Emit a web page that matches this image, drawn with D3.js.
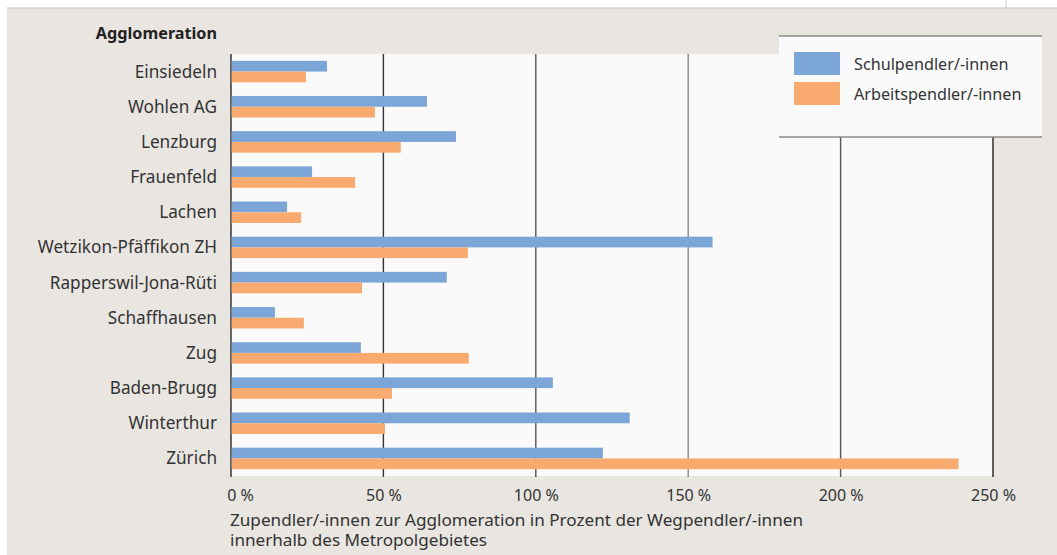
<!DOCTYPE html>
<html>
<head>
<meta charset="utf-8">
<script src="https://cdn.jsdelivr.net/npm/d3@7"></script>
<style>
  body { margin: 0; background: #fff; }
  svg { display: block; }
  .cat { font-family: "Noto Sans", sans-serif; font-size: 17.2px; fill: #333; }
  .tick text { font-family: "Noto Sans", sans-serif; font-size: 16px; fill: #333; }
</style>
</head>
<body>
<div id="chart"></div>
<script>
// agglomerations, top to bottom
let categories = ['Einsiedeln', 'Wohlen AG', 'Lenzburg', 'Frauenfeld', 'Lachen',
  'Wetzikon-Pfäffikon ZH', 'Rapperswil-Jona-Rüti', 'Schaffhausen', 'Zug',
  'Baden-Brugg', 'Winterthur', 'Zürich'];

// percent values
let schulpendler = [31.5, 64.3, 73.8, 26.6, 18.4, 158, 70.8, 14.4, 42.6, 105.6, 130.8, 122];
let arbeitspendler = [24.6, 47.2, 55.7, 40.7, 23, 77.7, 43, 23.9, 78, 52.8, 50.5, 238.7];

let series = ['Schulpendler/-innen', 'Arbeitspendler/-innen'];
let colors = ['#7ba6d7', '#f9aa6f'];
let tickValues = [0, 50, 100, 150, 200, 250];
let gridColors = ['#2a2a2a', '#333', '#555', '#888', '#555', '#222'];

let chart_width = 1057;
let chart_height = 555;

let svg = d3.select('#chart')
  .append('svg')
  .attr('width', chart_width)
  .attr('height', chart_height);

// background
svg.append('rect')
  .attr('x', 7).attr('y', 8)
  .attr('width', chart_width).attr('height', chart_height)
  .attr('fill', '#e9e6e1');
svg.append('line')
  .attr('x1', 7).attr('x2', chart_width).attr('y1', 8).attr('y2', 8)
  .attr('stroke', '#d0d0d0').attr('stroke-width', 1.5);
svg.append('line')
  .attr('x1', 1006).attr('x2', 1006).attr('y1', 0).attr('y2', 8)
  .attr('stroke', '#d0d0d0').attr('stroke-width', 1);

let plot_left = 231, plot_right = 993, plot_top = 54, plot_bottom = 476;

let x_scale = d3.scaleLinear()
  .domain([0, 250])
  .range([plot_left, plot_right]);

let y_scale = d3.scaleBand()
  .domain(categories)
  .range([plot_top, plot_bottom])
  .paddingInner(0.39)
  .paddingOuter(0.195);

let inner = d3.scaleBand()
  .domain(series)
  .range([0, y_scale.bandwidth()]);

// plot area
svg.append('rect')
  .attr('x', plot_left).attr('y', plot_top)
  .attr('width', plot_right - plot_left).attr('height', plot_bottom - plot_top)
  .attr('fill', '#fafafa');

// grid lines
svg.selectAll('.grid')
  .data(tickValues)
  .enter()
  .append('line')
  .attr('class', 'grid')
  .attr('x1', d => x_scale(d)).attr('x2', d => x_scale(d))
  .attr('y1', plot_top).attr('y2', plot_bottom + 1)
  .attr('stroke', (d, i) => gridColors[i])
  .attr('stroke-width', 1.4);

// bars
let rows = categories.map((c, i) => ({ cat: c, vals: [schulpendler[i], arbeitspendler[i]] }));

let groups = svg.selectAll('.row')
  .data(rows)
  .enter()
  .append('g')
  .attr('class', 'row')
  .attr('transform', d => 'translate(0,' + y_scale(d.cat) + ')');

groups.selectAll('rect')
  .data(d => d.vals.map((v, j) => ({ s: series[j], v: v, j: j })))
  .enter()
  .append('rect')
  .attr('x', x_scale(0) + 0.7)
  .attr('y', d => inner(d.s))
  .attr('width', d => x_scale(d.v) - x_scale(0) - 0.7)
  .attr('height', inner.bandwidth())
  .attr('fill', d => colors[d.j]);

// category labels
svg.selectAll('.cat')
  .data(categories)
  .enter()
  .append('text')
  .attr('class', 'cat')
  .attr('x', 217)
  .attr('y', d => y_scale(d) + y_scale.bandwidth() / 2)
  .attr('dy', '0.35em')
  .attr('text-anchor', 'end')
  .text(d => d);

svg.append('text')
  .attr('x', 217).attr('y', 33)
  .attr('dy', '0.35em')
  .attr('text-anchor', 'end')
  .style('font-family', '"Noto Sans", sans-serif')
  .style('font-size', '16.2px')
  .style('font-weight', 'bold')
  .style('fill', '#222')
  .text('Agglomeration');

// x axis
let x_axis = d3.axisBottom(x_scale)
  .tickValues(tickValues)
  .tickSize(0)
  .tickPadding(0)
  .tickFormat(d => d + ' %');

let ax = svg.append('g')
  .attr('transform', 'translate(0,' + 488 + ')')
  .call(x_axis);
ax.select('.domain').remove();
ax.selectAll('.tick text')
  .attr('y', 13)
  .attr('dy', 0)
  .attr('dx', d => d === 0 ? 9 : 0);

let titleLines = ['Zupendler/-innen zur Agglomeration in Prozent der Wegpendler/-innen',
  'innerhalb des Metropolgebietes'];
let titleWidths = [573, 257];
svg.selectAll('.xtitle')
  .data(titleLines)
  .enter()
  .append('text')
  .attr('class', 'xtitle')
  .attr('x', 230)
  .attr('y', (d, i) => 526 + i * 20)
  .attr('textLength', (d, i) => titleWidths[i])
  .attr('lengthAdjust', 'spacingAndGlyphs')
  .style('font-family', '"Noto Sans", sans-serif')
  .style('font-size', '15.5px')
  .style('fill', '#333')
  .text(d => d);

// legend
let legend = svg.append('g');
legend.append('rect')
  .attr('x', 779).attr('y', 36)
  .attr('width', 263).attr('height', 101)
  .attr('fill', '#fafafa');
[36, 137].forEach(y => {
  legend.append('line')
    .attr('x1', 779).attr('x2', 1042).attr('y1', y).attr('y2', y)
    .attr('stroke', '#888').attr('stroke-width', 1.5);
});
let items = legend.selectAll('.item')
  .data(series)
  .enter()
  .append('g')
  .attr('transform', (d, i) => 'translate(794,' + (52 + i * 30) + ')');
items.append('rect')
  .attr('width', 46).attr('height', 23)
  .attr('fill', (d, i) => colors[i]);
items.append('text')
  .attr('x', 60).attr('y', 12)
  .attr('dy', '0.35em')
  .style('font-family', '"Noto Sans", sans-serif')
  .style('font-size', '16.2px')
  .style('fill', '#333')
  .text(d => d);
</script>
</body>
</html>
